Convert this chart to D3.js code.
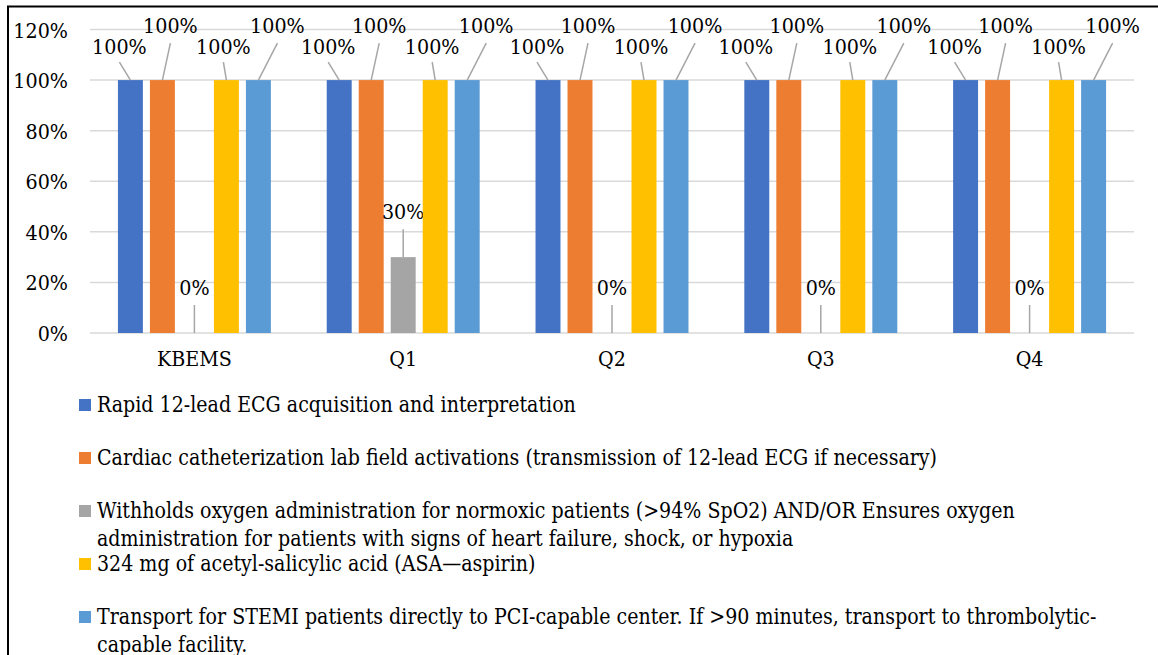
<!DOCTYPE html>
<html>
<head>
<meta charset="utf-8">
<script src="https://cdn.jsdelivr.net/npm/d3@7/dist/d3.min.js"></script>
<style>
    body { margin: 0; background: #ffffff; }
    text { fill: #000000; font-family: "DejaVu Serif", serif; }
</style>
</head>
<body>
<div id="chart"></div>
<script>
// categories and series
var categories = ["KBEMS", "Q1", "Q2", "Q3", "Q4"];
var seriesNames = [
    "Rapid 12-lead ECG acquisition and interpretation",
    "Cardiac catheterization lab field activations (transmission of 12-lead ECG if necessary)",
    "Withholds oxygen administration for normoxic patients (>94% SpO2) AND/OR Ensures oxygen|administration for patients with signs of heart failure, shock, or hypoxia",
    "324 mg of acetyl-salicylic acid (ASA\u2014aspirin)",
    "Transport for STEMI patients directly to PCI-capable center. If >90 minutes, transport to thrombolytic-|capable facility."
];
var rapidEcg = [1, 1, 1, 1, 1];
var cathLab = [1, 1, 1, 1, 1];
var oxygen = [0, 0.3, 0, 0, 0];
var aspirin = [1, 1, 1, 1, 1];
var transport = [1, 1, 1, 1, 1];
var yTicks = [0, 0.2, 0.4, 0.6, 0.8, 1.0, 1.2];

var seriesValues = [rapidEcg, cathLab, oxygen, aspirin, transport];
var colors = ["#4472c4", "#ed7d31", "#a5a5a5", "#ffc000", "#5b9bd5"];

// where each series puts its data label (offset from bar top)
var labelStyle = [
    {dx: -11, base: 26, lead: 18},
    {dx: 8, base: 47, lead: 37},
    {dx: 0, base: 38, lead: 28},
    {dx: -3, base: 26, lead: 18},
    {dx: 19, base: 47, lead: 37}
];

var width = 1158;
var height = 655;

// DejaVu Serif runs wider than Times, so squeeze the glyphs a bit
function squeeze(sel, factor) {
    sel.each(function() {
        var w = this.getComputedTextLength();
        d3.select(this)
          .attr("textLength", w * factor)
          .attr("lengthAdjust", "spacingAndGlyphs");
    });
}

var svg = d3.select("#chart")
            .append("svg")
            .attr("width", width)
            .attr("height", height);

// frame round the chart
svg.append("path")
   .attr("d", "M8," + height + " V6.5 H" + width)
   .attr("fill", "none")
   .attr("stroke", "#000000")
   .attr("stroke-width", 2);

var plotLeft = 90;
var plotRight = 1134;

var yScale = d3.scaleLinear()
               .domain([0, 1.2])
               .range([333, 29.5]);

var x0 = d3.scaleBand()
           .domain(categories)
           .range([plotLeft, plotRight]);

var x1 = d3.scaleBand()
           .domain(d3.range(seriesNames.length))
           .range([-80, 80])
           .paddingInner(0.22)
           .paddingOuter(0.11);

// gridlines
svg.append("g")
   .selectAll("line")
   .data(yTicks)
   .enter()
   .append("line")
   .attr("x1", plotLeft)
   .attr("x2", plotRight)
   .attr("y1", function(d) { return yScale(d); })
   .attr("y2", function(d) { return yScale(d); })
   .attr("stroke", "#d9d9d9")
   .attr("stroke-width", 1.5);

// y axis labels
var yAxis = d3.axisLeft(yScale)
              .tickValues(yTicks)
              .tickFormat(d3.format(".0%"))
              .tickSize(0)
              .tickPadding(0);

var yAxisG = svg.append("g")
                .attr("transform", "translate(68,0)")
                .call(yAxis);
yAxisG.select(".domain").remove();
yAxisG.selectAll("text")
      .attr("font-size", 21)
      .attr("dy", "0.36em")
      .call(squeeze, 0.91);

// x axis labels
var xAxis = d3.axisBottom(x0).tickSize(0).tickPadding(0);
var xAxisG = svg.append("g")
                .attr("transform", "translate(0,350)")
                .call(xAxis);
xAxisG.select(".domain").remove();
xAxisG.selectAll("text")
      .attr("font-size", 21)
      .attr("dy", "0.75em")
      .call(squeeze, 0.91);

// bars
var groups = svg.selectAll(".group")
                .data(categories)
                .enter()
                .append("g")
                .attr("class", "group")
                .attr("transform", function(d) {
                    return "translate(" + (x0(d) + x0.bandwidth() / 2) + ",0)";
                });

groups.each(function(cat, ci) {
    var g = d3.select(this);
    seriesValues.forEach(function(vals, si) {
        var v = vals[ci];
        var bx = x1(si);
        var cx = bx + x1.bandwidth() / 2;
        var top = yScale(v);
        var st = labelStyle[si];

        g.append("rect")
         .attr("x", bx)
         .attr("y", top)
         .attr("width", x1.bandwidth())
         .attr("height", yScale(0) - top)
         .attr("fill", colors[si]);

        // leader line and data label
        g.append("line")
         .attr("x1", cx + st.dx)
         .attr("y1", top - st.lead)
         .attr("x2", cx)
         .attr("y2", top)
         .attr("stroke", "#a6a6a6")
         .attr("stroke-width", 1.5);

        g.append("text")
         .attr("x", cx + st.dx)
         .attr("y", top - st.base)
         .attr("text-anchor", "middle")
         .attr("font-size", 21)
         .text(d3.format(".0%")(v))
         .call(squeeze, 0.91);
    });
});

// legend
var legend = svg.selectAll(".legend")
                .data(seriesNames)
                .enter()
                .append("g")
                .attr("class", "legend")
                .attr("transform", function(d, i) {
                    return "translate(0," + (412 + i * 53) + ")";
                });

legend.append("rect")
      .attr("x", 79)
      .attr("y", -13)
      .attr("width", 12)
      .attr("height", 12)
      .attr("fill", function(d, i) { return colors[i]; });

legend.selectAll(".line")
      .data(function(d) { return d.split("|"); })
      .enter()
      .append("text")
      .attr("class", "line")
      .attr("x", 97)
      .attr("y", function(d, i) { return i * 27.5; })
      .attr("font-size", 21.5)
      .text(function(d) { return d; })
      .call(squeeze, 0.885);
</script>
</body>
</html>
